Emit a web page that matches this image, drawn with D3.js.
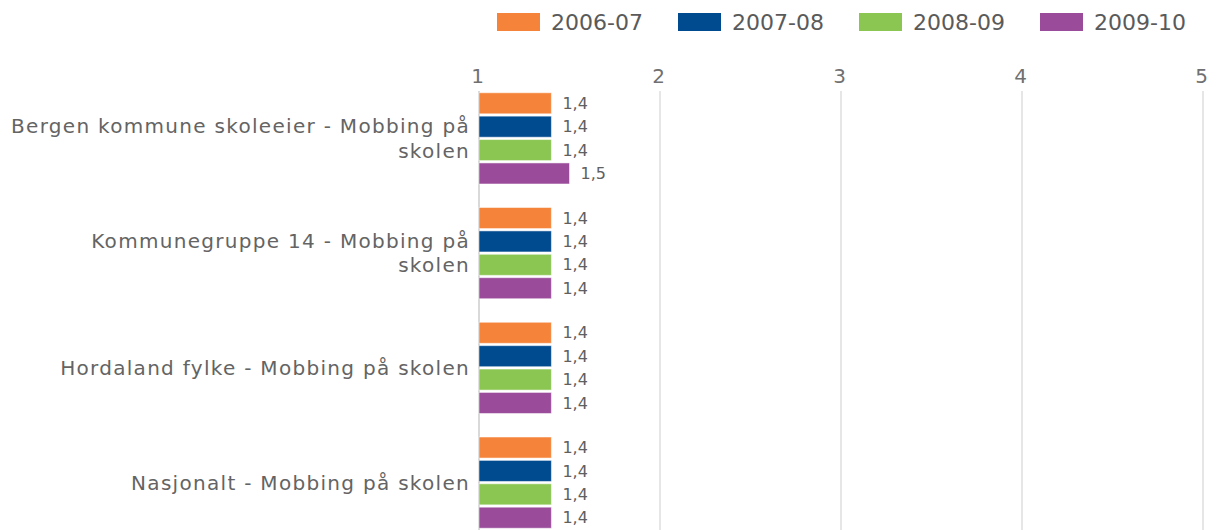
<!DOCTYPE html>
<html>
<head>
<meta charset="utf-8">
<script src="https://cdn.jsdelivr.net/npm/d3@7"></script>
<style>
  body { margin: 0; background: #fff; }
  svg { display: block; }
  text { font-family: "DejaVu Sans", Verdana, sans-serif; }
</style>
</head>
<body>
<div id="chart"></div>
<script>
// data
var categories = [
  "Bergen kommune skoleeier - Mobbing på skolen",
  "Kommunegruppe 14 - Mobbing på skolen",
  "Hordaland fylke - Mobbing på skolen",
  "Nasjonalt - Mobbing på skolen"
];
// how the labels are broken into lines in the picture
var categoryLines = [
  ["Bergen kommune skoleeier - Mobbing på", "skolen"],
  ["Kommunegruppe 14 - Mobbing på", "skolen"],
  ["Hordaland fylke - Mobbing på skolen"],
  ["Nasjonalt - Mobbing på skolen"]
];
var seriesNames = ["2006-07", "2007-08", "2008-09", "2009-10"];
var seriesColors = ["#f5843a", "#004a8f", "#8bc653", "#9a4c9a"];
// one array per series, same order as categories
var s2006 = [1.4, 1.4, 1.4, 1.4];
var s2007 = [1.4, 1.4, 1.4, 1.4];
var s2008 = [1.4, 1.4, 1.4, 1.4];
var s2009 = [1.5, 1.4, 1.4, 1.4];
var seriesValues = [s2006, s2007, s2008, s2009];
var xTicks = [1, 2, 3, 4, 5];

var width = 1226;
var height = 530;

var svg = d3.select("#chart")
  .append("svg")
  .attr("width", width)
  .attr("height", height);

var x = d3.scaleLinear().domain([1, 5]).range([479, 1203]);

var y0 = d3.scaleBand()
  .domain(categories)
  .range([81, 540])
  .paddingInner(0.205)
  .paddingOuter(0.1025);

var y1 = d3.scaleBand()
  .domain(seriesNames)
  .range([0, y0.bandwidth()])
  .paddingInner(0.1);

var nb = d3.formatLocale({decimal: ",", thousands: " ", grouping: [3], currency: ["", ""]});
var fmt = nb.format(".1f");

// gridlines + tick labels on top
var xAxis = d3.axisTop(x).tickValues(xTicks).tickSize(0).tickPadding(0).tickFormat(d3.format("d"));
var gx = svg.append("g")
  .attr("transform", "translate(-2,83)")
  .call(xAxis);
gx.select(".domain").remove();
gx.selectAll("text")
  .attr("font-size", 20)
  .attr("fill", "#707070")
  .attr("font-family", "DejaVu Sans");

svg.append("g")
  .selectAll("line")
  .data(xTicks)
  .join("line")
  .attr("x1", d => x(d))
  .attr("x2", d => x(d))
  .attr("y1", 91)
  .attr("y2", height)
  .attr("stroke", d => d == 1 ? "#cccccc" : "#dedede")
  .attr("stroke-width", 1.5);

// bars
var groups = svg.append("g")
  .selectAll("g")
  .data(categories)
  .join("g")
  .attr("transform", d => "translate(0," + y0(d) + ")");

groups.selectAll("rect")
  .data((c, ci) => seriesNames.map((s, si) => ({s: s, i: si, v: seriesValues[si][ci]})))
  .join("rect")
  .attr("x", x(1))
  .attr("y", d => y1(d.s))
  .attr("width", d => x(d.v) - x(1))
  .attr("height", y1.bandwidth())
  .attr("fill", d => seriesColors[d.i])
  .attr("stroke", "#fff")
  .attr("stroke-opacity", 0.5)
  .attr("stroke-width", 1);

groups.selectAll("text.val")
  .data((c, ci) => seriesNames.map((s, si) => ({s: s, i: si, v: seriesValues[si][ci]})))
  .join("text")
  .attr("class", "val")
  .attr("x", d => x(d.v) + 11)
  .attr("y", d => y1(d.s) + y1.bandwidth() / 2)
  .attr("dy", "0.35em")
  .attr("font-size", 16)
  .attr("fill", "#606060")
  .text(d => fmt(d.v));

// category labels
var catLabels = svg.append("g")
  .selectAll("text")
  .data(categories)
  .join("text")
  .attr("text-anchor", "end")
  .attr("font-size", 20)
  .attr("letter-spacing", "1.3px")
  .attr("fill", "#646464");

catLabels.each(function(d, ci) {
  var t = d3.select(this);
  var lines = categoryLines[ci];
  var mid = y0(d) + y0.bandwidth() / 2;
  var lh = 24.5;
  lines.forEach(function(l, i) {
    t.append("tspan")
      .attr("x", 470)
      .attr("y", mid + (i - (lines.length - 1) / 2) * lh)
      .attr("dy", "0.35em")
      .text(l);
  });
});

// legend
var legend = svg.append("g")
  .selectAll("g")
  .data(seriesNames)
  .join("g")
  .attr("transform", (d, i) => "translate(" + (497 + i * 181) + ",13)");

legend.append("rect")
  .attr("width", 43)
  .attr("height", 18)
  .attr("fill", (d, i) => seriesColors[i]);

legend.append("text")
  .attr("x", 54)
  .attr("y", 9)
  .attr("dy", "0.35em")
  .attr("font-size", 22)
  .attr("fill", "#5a5a5a")
  .text(d => d);
</script>
</body>
</html>
